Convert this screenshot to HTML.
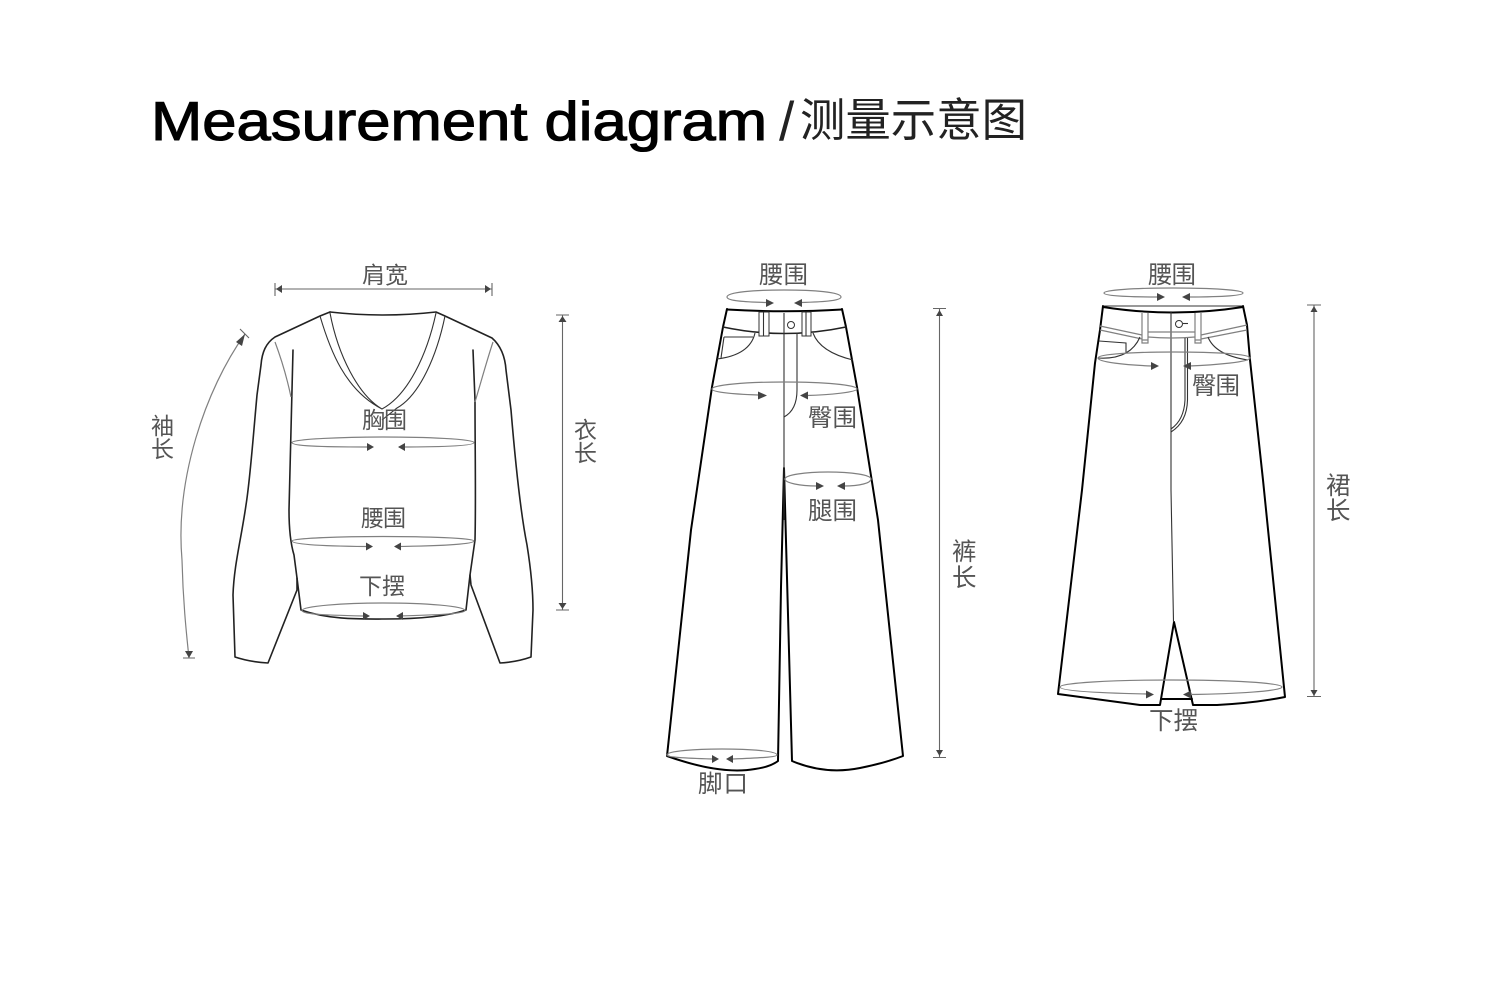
<!DOCTYPE html>
<html><head><meta charset="utf-8"><title>Measurement diagram</title>
<style>
html,body{margin:0;padding:0;background:#fff}
svg{display:block}
.o{fill:none;stroke:#222;stroke-width:1.6;stroke-linejoin:round;stroke-linecap:round}
.b{fill:none;stroke:#000;stroke-width:2;stroke-linejoin:round;stroke-linecap:round}
.t{fill:none;stroke:#333;stroke-width:1.1}
.g{fill:none;stroke:#808080;stroke-width:1.2}
.d{fill:none;stroke:#666;stroke-width:1.1}
.a{fill:#444;stroke:none}
.l{font-family:"Liberation Sans","Noto Sans CJK SC",sans-serif;fill:#555}
.s{font-size:23px}.m{font-size:24.5px}
</style></head><body>
<svg width="1500" height="1000" viewBox="0 0 1500 1000" xmlns="http://www.w3.org/2000/svg">
<rect width="1500" height="1000" fill="#fff"/>
<text x="151" y="140" font-family="Liberation Sans,sans-serif" font-size="55" fill="#000" stroke="#000" stroke-width="1.1" textLength="616" lengthAdjust="spacingAndGlyphs">Measurement diagram</text>
<text x="779" y="140" font-family="Liberation Sans,sans-serif" font-size="55" fill="#222">/</text>
<text x="800" y="136" font-family="Liberation Sans,Noto Sans CJK SC,sans-serif" font-size="45.500" fill="#222" textLength="227" lengthAdjust="spacingAndGlyphs">测量示意图</text>

<!-- Sweater -->
<path class="o" d="M330 312Q383 318 436 312L445 316L492 338C500 345 505 355 506 370L511 410C516 470 522 520 527 545C531 570 533 590 533 610L531 657Q517 662 500 663L471 585L470 575"/>
<path class="o" d="M330 312L320 316L275 337C266 343 262 352 261 365L257 395C252 450 250 480 246 505C241 540 234 565 233 595L235 657Q250 662 268 663L297 590L297 578"/>
<path class="o" d="M293 350C292 400 290 450 289 510C289 530 291 545 294 555L297 578L301 610C330 620 360 619 385 619C415 619 445 617 466 610L470 575L475 540C476 500 475 450 475 400L473 350"/>
<path class="g" d="M275 342C281 358 287 378 291 397M493 342C487 360 481 382 475 402"/>
<path class="t" d="M320 316C330 350 345 390 382 409M330 313C338 355 358 395 382 409C408 395 427 355 436 313M445 316C437 355 420 395 397 408L382 420"/>

<path class="g" d="M245 334C205 390 175 480 182 560C183 600 186 630 189 658"/>
<path class="d" d="M240 329L249 338M183 658H195"/>
<polygon class="a" points="245,334 236,342 242,346"/><polygon class="a" points="189,658 185,651 193,651"/>
<path class="d" d="M275 283V296M492 283V296M275 289H492M556 315H569M556 610H569M562.5 315V610"/>
<polygon class="a" points="276,289 282,285 282,293"/><polygon class="a" points="491,289 485,285 485,293"/>
<polygon class="a" points="562.5,316 558.500,322 566.500,322"/><polygon class="a" points="562.500,609 558.500,603 566.500,603"/>

<path class="g" d="M367 447C320 447 292 446 292 442.500C292 439 345 437 383 437C425 437 474 439 474 442.500C474 446 440 447 399 447"/>
<polygon class="a" points="374,447 367,443 367,451"/><polygon class="a" points="398,447 405,443 405,451"/>
<path class="g" d="M366 546.500C315 546 292 544 292 541C292 538 345 536.500 383 536.500C425 536.500 474 538 474 541C474 544 440 546 395 546.500"/>
<polygon class="a" points="373,546.500 366,542.500 366,550.500"/><polygon class="a" points="394,546.500 401,542.500 401,550.500"/>
<path class="g" d="M363 616C320 615 302 614 302 610.500C302 606 345 603 383 603C425 603 465 606 465 610.500C465 614 435 615 397 616"/>
<polygon class="a" points="370,616 363,612 363,620"/><polygon class="a" points="396,616 403,612 403,620"/>

<text class="l s" x="362" y="283" textLength="46">肩宽</text>
<text class="l s" x="362" y="428" textLength="45">胸围</text>
<text class="l s" x="361" y="526" textLength="45">腰围</text>
<text class="l s" x="359" y="594" textLength="46">下摆</text>
<text class="l s" x="151" y="434">袖</text><text class="l s" x="151" y="457">长</text>
<text class="l s" x="574" y="438">衣</text><text class="l s" x="574" y="461">长</text>

<!-- Pants -->
<path class="b" d="M727 309L723 327L712 387L691 530L667 756Q720 775 755 769Q770 767 778 761L781 587L784 468L792 761Q825 775 860 768Q885 763 903 756L878 520L857 387L846 327L842 309"/>
<path class="b" d="M727 309.500Q784 313 842 309.500"/>
<path class="o" d="M723 327Q784 340 846 327"/>
<path class="t" d="M784 313V468M784 468V520"/>
<path class="t" d="M797 333V390Q797 410 784 417"/>
<path class="t" d="M717 359Q750 355 755 333M724 337H753M724 337L721 358M813 333Q820 352 853 360"/>
<rect x="759" y="312" width="10" height="24" fill="#fff" stroke="#333"/><path class="t" d="M763.500 312V336"/>
<rect x="802" y="312" width="9" height="24" fill="#fff" stroke="#333"/><path class="t" d="M806 312V336"/>
<circle cx="791" cy="325" r="3.500" fill="#fff" stroke="#333"/>
<path class="g" d="M767 302.500C745 302 727 301 727 297C727 292 755 290 784 290C813 290 841 292 841 297C841 301 820 302 801 302.500"/>
<polygon class="a" points="774,303 766,299 766,307"/><polygon class="a" points="794,303 802,299 802,307"/>
<path class="g" d="M758 395C730 394 712 392 712 389C712 385 745 382 784 382C825 382 857 385 857 389C857 392 830 395 807 395.500"/>
<polygon class="a" points="767,395.500 758,391.500 758,399.500"/><polygon class="a" points="800,395.500 808,391.500 808,399.500"/>
<path class="g" d="M817 486C800 486 785 483 785 479C785 475 805 472 828 472C852 472 871 475 871 479C871 483 860 486 844 486"/>
<polygon class="a" points="824,486 816,482 816,490"/><polygon class="a" points="837,486 845,482 845,490"/>
<path class="g" d="M712 759C680 758 667 757 667 755C667 751 695 749 722 749C750 749 777 751 777 755C777 757 760 758 733 759"/>
<polygon class="a" points="719,759 712,755 712,763"/><polygon class="a" points="726,759 733,755 733,763"/>
<path class="d" d="M933 308.500H946M933 757.500H946M939.500 309V757"/>
<polygon class="a" points="939.500,310 936,316 943,316"/><polygon class="a" points="939.500,756 936,750 943,750"/>
<text class="l m" x="759" y="283" textLength="49">腰围</text>
<text class="l m" x="808" y="426" textLength="49">臀围</text>
<text class="l m" x="808" y="519" textLength="49">腿围</text>
<text class="l m" x="952" y="560">裤</text><text class="l m" x="952" y="586">长</text>
<text class="l m" x="698" y="792" textLength="50">脚口</text>

<!-- Skirt -->
<path class="b" d="M1103 306L1100 330L1095 363L1082 490L1058 694L1140 705H1160L1174 622L1193 705H1217Q1255 703 1285 697L1263 480L1250 360L1247 325L1243 306"/>
<path class="t" d="M1103 306H1243"/>
<path class="b" d="M1103 307Q1173 318 1243 307M1161 699H1192"/>
<path class="t" d="M1171 312V490L1173.500 622"/>
<path class="g" d="M1100 326L1142 335M1100 330L1142 339M1148 332H1195M1148 337Q1172 339 1195 337M1201 335L1247 325M1201 339L1247 330"/>
<path class="g" d="M1142 313V343H1148V313M1142 340H1148M1195 313V343H1201V313M1195 340H1201"/>
<circle cx="1179" cy="324" r="3.500" fill="#fff" stroke="#333"/><path class="t" d="M1183 323.500H1188"/>
<path class="t" d="M1185 338V400Q1184 420 1171 429M1187.500 338V400Q1187 422 1171 432"/>
<path class="t" d="M1098 358Q1130 360 1140 337M1099 341L1126 343V353M1208 337Q1215 355 1248 360"/>
<path class="g" d="M1158 297C1130 297 1104 296 1104 293C1104 290 1135 288 1173 288C1212 288 1243 290 1243 293C1243 296 1215 297 1188 297"/>
<polygon class="a" points="1165,297 1157,293 1157,301"/><polygon class="a" points="1182,297 1190,293 1190,301"/>
<path class="g" d="M1152 366C1125 365 1098 362 1098 358C1098 354 1135 352 1174 352C1215 352 1250 354 1250 358C1250 362 1215 365 1189 366"/>
<polygon class="a" points="1159,366 1151,362 1151,370"/><polygon class="a" points="1183,366 1191,362 1191,370"/>
<path class="g" d="M1147 694C1100 693 1060 691 1060 687C1060 683 1110 680 1171 680C1232 680 1282 683 1282 687C1282 691 1235 694 1190 694.500"/>
<polygon class="a" points="1154,694.500 1146,690.500 1146,698.500"/><polygon class="a" points="1183,694.500 1191,690.500 1191,698.500"/>
<path class="d" d="M1307 305H1321M1307 696.500H1321M1314 305V696"/>
<polygon class="a" points="1314,306 1310.500,312 1317.500,312"/><polygon class="a" points="1314,696 1310.500,690 1317.500,690"/>
<text class="l m" x="1148" y="283" textLength="48">腰围</text>
<text class="l m" x="1192" y="394" textLength="48">臀围</text>
<text class="l m" x="1326" y="494">裙</text><text class="l m" x="1326" y="519">长</text>
<text class="l m" x="1149" y="729" textLength="49">下摆</text>
</svg>
</body></html>
